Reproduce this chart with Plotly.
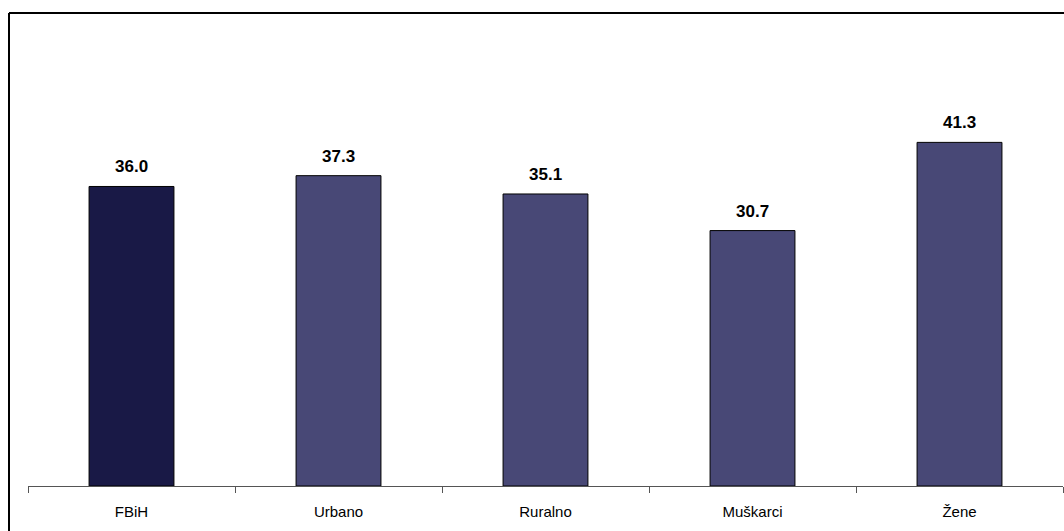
import plotly.graph_objects as go

categories = ["FBiH", "Urbano", "Ruralno", "Muškarci", "Žene"]
values = [36.0, 37.3, 35.1, 30.7, 41.3]
bar_colors = ["#191946", "#484876", "#484876", "#484876", "#484876"]

W, H = 1064, 531
L, R, T, B = 28, 1, 70, 45
plot_w = W - L - R
plot_h = H - T - B

fig = go.Figure()
fig.add_trace(go.Bar(
    x=categories, y=values,
    marker=dict(color=bar_colors, line=dict(color="#000000", width=1)),
    width=0.41,
    hoverinfo="x+y",
))

for c, v in zip(categories, values):
    fig.add_annotation(
        x=c, y=v, text=f"<b>{v:.1f}</b>", showarrow=False,
        yanchor="bottom", yshift=8,
        font=dict(family="Liberation Sans, Arial", size=17, color="#000000"),
    )

# outer frame: only its top and left edges fall inside the picture
fx0 = (9 - L) / plot_w
fx1 = (W - L) / plot_w
fy_top = (H - B - 13) / plot_h
fy_bot = (H - B - H) / plot_h
frame_line = dict(color="#000000", width=2)
fig.add_shape(type="line", xref="paper", yref="paper",
              x0=fx0, x1=fx1, y0=fy_top, y1=fy_top, line=frame_line, layer="below")
fig.add_shape(type="line", xref="paper", yref="paper",
              x0=fx0, x1=fx0, y0=fy_bot, y1=fy_top, line=frame_line, layer="below")

fig.update_layout(
    width=W, height=H,
    margin=dict(l=L, r=R, t=T, b=B),
    paper_bgcolor="#ffffff", plot_bgcolor="#ffffff",
    showlegend=False,
    bargap=0.59,
    font=dict(family="Liberation Sans, Arial", size=15, color="#000000"),
    xaxis=dict(
        type="category", showline=True, linecolor="#555555", linewidth=1,
        ticks="outside", tickson="boundaries", ticklen=6, tickcolor="#555555",
        showgrid=False, ticklabelstandoff=12,
        tickfont=dict(family="Liberation Sans, Arial", size=15, color="#000000"),
    ),
    yaxis=dict(range=[0, 50], visible=False, showgrid=False, zeroline=False),
)

fig.write_html(
    "out.html",
    config={"displayModeBar": False},
    post_script="document.body.style.margin='0';document.body.style.overflow='hidden';",
)
